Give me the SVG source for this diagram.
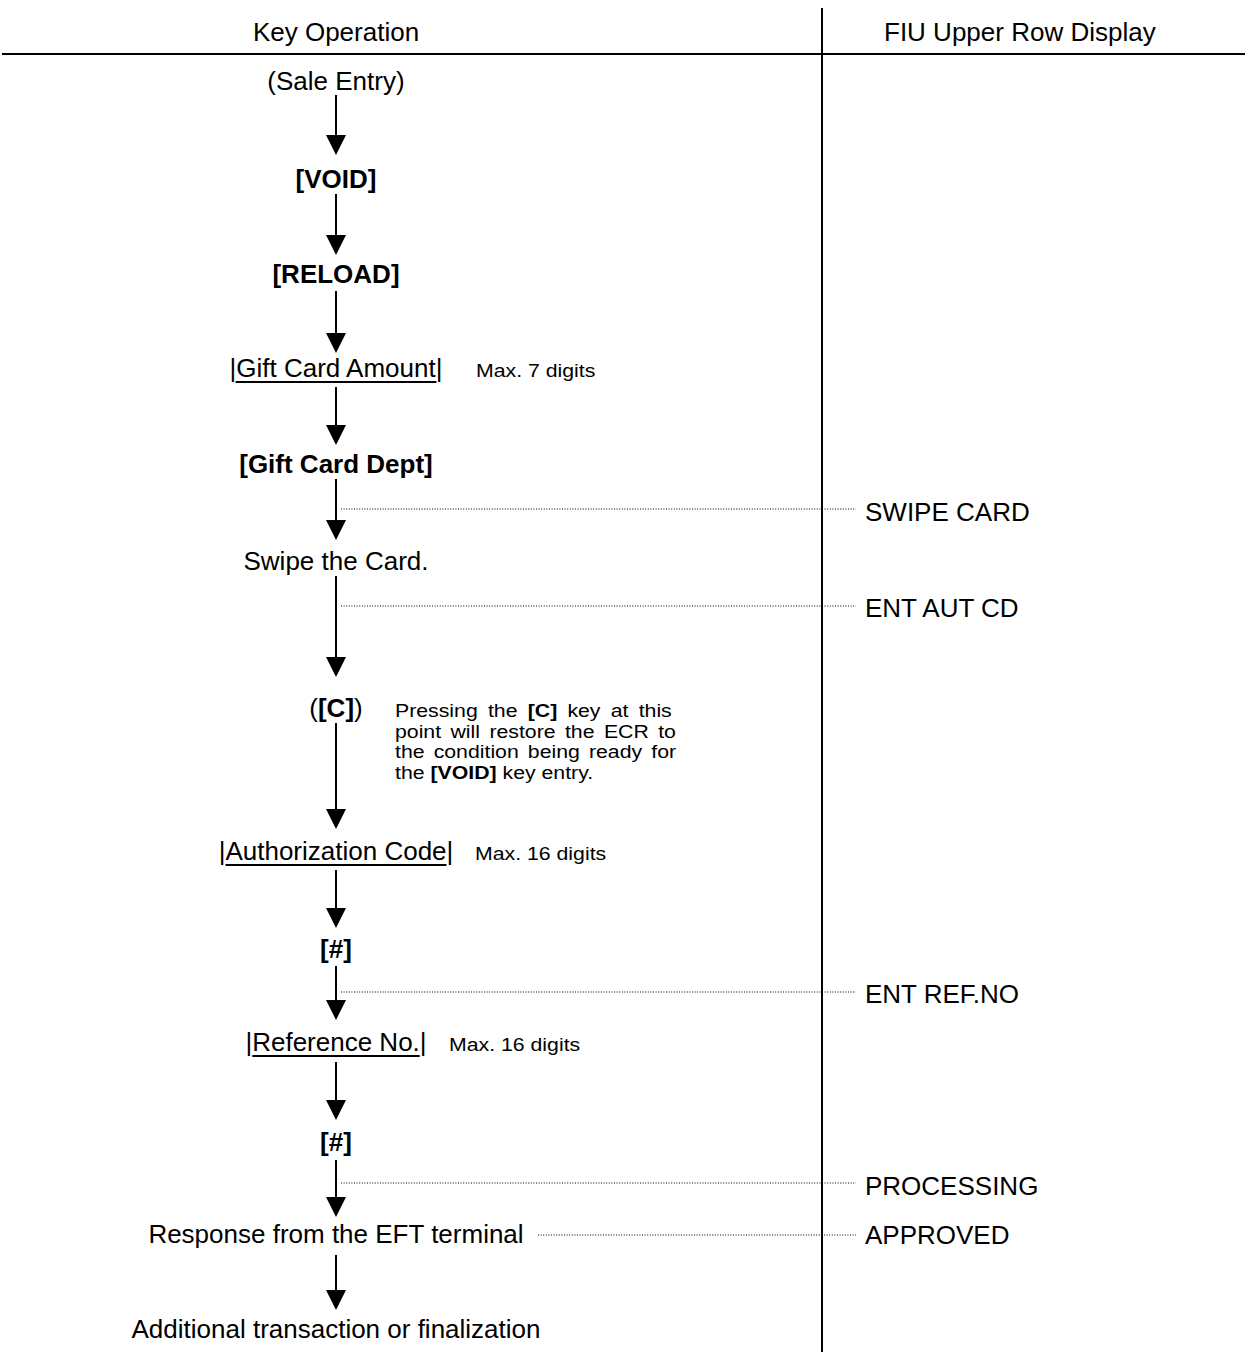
<svg xmlns="http://www.w3.org/2000/svg" width="1245" height="1358" viewBox="0 0 1245 1358">
<defs>
<style>
text{font-family:"Liberation Sans",Arial,sans-serif;fill:#000}
.m{font-size:26px}
.c{text-anchor:middle}
.b{font-weight:bold}
.s{font-size:18.5px}
.ln{stroke:#000;stroke-width:2;fill:none}
.dot{stroke:#000;stroke-width:1;stroke-dasharray:1 1.6;fill:none}
.ul{stroke:#000;stroke-width:2}
</style>
<marker id="ah" markerUnits="userSpaceOnUse" markerWidth="20" markerHeight="20" viewBox="0 0 20 20" refX="0" refY="10" orient="auto">
<path d="M0,0 L20,10 L0,20 z" fill="#000"/>
</marker>
</defs>
<rect width="1245" height="1358" fill="#fff"/>
<g id="table">
<line x1="2" y1="54" x2="1245" y2="54" class="ln"/>
<line x1="822" y1="8" x2="822" y2="1352" class="ln"/>
<text class="m c" x="336" y="41">Key Operation</text>
<text class="m" x="884" y="41">FIU Upper Row Display</text>
</g>
<g id="connectors">
<line x1="336" y1="95" x2="336" y2="135" class="ln" marker-end="url(#ah)"/>
<line x1="336" y1="194" x2="336" y2="235" class="ln" marker-end="url(#ah)"/>
<line x1="336" y1="291" x2="336" y2="333" class="ln" marker-end="url(#ah)"/>
<line x1="336" y1="387" x2="336" y2="425" class="ln" marker-end="url(#ah)"/>
<line x1="336" y1="479" x2="336" y2="520" class="ln" marker-end="url(#ah)"/>
<line x1="336" y1="576" x2="336" y2="657" class="ln" marker-end="url(#ah)"/>
<line x1="336" y1="723" x2="336" y2="809" class="ln" marker-end="url(#ah)"/>
<line x1="336" y1="870" x2="336" y2="908" class="ln" marker-end="url(#ah)"/>
<line x1="336" y1="966" x2="336" y2="1000" class="ln" marker-end="url(#ah)"/>
<line x1="336" y1="1062" x2="336" y2="1100" class="ln" marker-end="url(#ah)"/>
<line x1="336" y1="1160" x2="336" y2="1197" class="ln" marker-end="url(#ah)"/>
<line x1="336" y1="1255" x2="336" y2="1290" class="ln" marker-end="url(#ah)"/>
<line x1="341" y1="509" x2="856" y2="509" class="dot"/>
<line x1="341" y1="606" x2="856" y2="606" class="dot"/>
<line x1="341" y1="992" x2="856" y2="992" class="dot"/>
<line x1="341" y1="1183" x2="856" y2="1183" class="dot"/>
<line x1="538" y1="1235" x2="856" y2="1235" class="dot"/>
</g>
<g id="n-sale"><text class="m c" x="336" y="90">(Sale Entry)</text></g>
<g id="n-void"><text class="m c b" x="336" y="188">[VOID]</text></g>
<g id="n-reload"><text class="m c b" x="336" y="283">[RELOAD]</text></g>
<g id="n-amount">
<text class="m c" x="336" y="377">|Gift Card Amount|</text>
<line x1="235.6" y1="382" x2="436.4" y2="382" class="ul"/>
<text class="s" transform="translate(476,377) scale(1.15,1)">Max. 7 digits</text>
</g>
<g id="n-dept"><text class="m c b" x="336" y="473">[Gift Card Dept]</text></g>
<g id="n-swipe"><text class="m c" x="336" y="570">Swipe the Card.</text></g>
<g id="n-clear">
<text class="m c" x="336" y="717">(<tspan class="b">[C]</tspan>)</text>
<g transform="translate(395,0) scale(1.15,1)">
<text class="s" x="0" y="717" word-spacing="3.74">Pressing the <tspan class="b">[C]</tspan> key at this</text>
<text class="s" x="0" y="738" word-spacing="3.03">point will restore the ECR to</text>
<text class="s" x="0" y="758.5" word-spacing="2.77">the condition being ready for</text>
<text class="s" x="0" y="779">the <tspan class="b">[VOID]</tspan> key entry.</text>
</g>
</g>
<g id="n-auth">
<text class="m c" x="336" y="860">|Authorization Code|</text>
<line x1="225.5" y1="865" x2="446.5" y2="865" class="ul"/>
<text class="s" transform="translate(475,860) scale(1.15,1)">Max. 16 digits</text>
</g>
<g id="n-hash1"><text class="m c b" x="336" y="958">[#]</text></g>
<g id="n-ref">
<text class="m c" x="336" y="1051">|Reference No.|</text>
<line x1="252.3" y1="1056" x2="419.7" y2="1056" class="ul"/>
<text class="s" transform="translate(449,1051) scale(1.15,1)">Max. 16 digits</text>
</g>
<g id="n-hash2"><text class="m c b" x="336" y="1151">[#]</text></g>
<g id="n-response"><text class="m c" x="336" y="1243">Response from the EFT terminal</text></g>
<g id="n-final"><text class="m c" x="336" y="1338">Additional transaction or finalization</text></g>
<g id="d-swipe"><text class="m" x="865" y="521">SWIPE CARD</text></g>
<g id="d-aut"><text class="m" x="865" y="617">ENT AUT CD</text></g>
<g id="d-ref"><text class="m" x="865" y="1003">ENT REF.NO</text></g>
<g id="d-proc"><text class="m" x="865" y="1195">PROCESSING</text></g>
<g id="d-appr"><text class="m" x="865" y="1244">APPROVED</text></g>
</svg>
